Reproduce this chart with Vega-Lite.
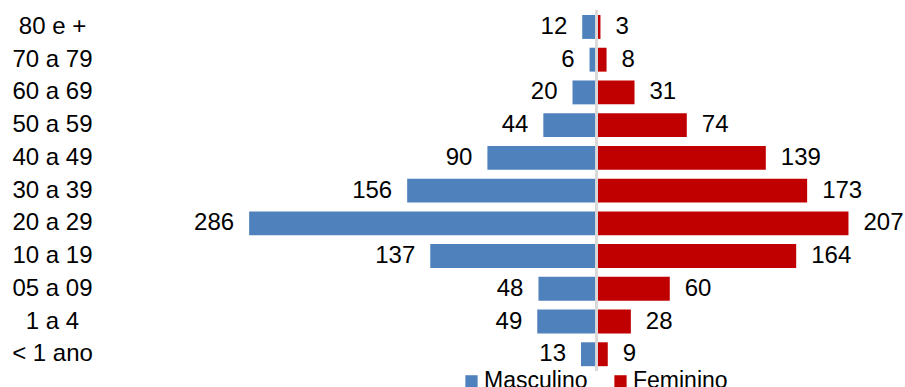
{
  "$schema": "https://vega.github.io/schema/vega-lite/v6.json",
  "width": 775,
  "height": 360,
  "autosize": {"type": "none"},
  "padding": {"left": 130, "top": 10.6, "right": 0, "bottom": 16.4},
  "background": "white",
  "config": {"view": {"stroke": null}, "font": "Liberation Sans"},
  "data": {
    "values": [
      {"faixa": "80 e +", "sexo": "Masculino", "valor": 12},
      {"faixa": "70 a 79", "sexo": "Masculino", "valor": 6},
      {"faixa": "60 a 69", "sexo": "Masculino", "valor": 20},
      {"faixa": "50 a 59", "sexo": "Masculino", "valor": 44},
      {"faixa": "40 a 49", "sexo": "Masculino", "valor": 90},
      {"faixa": "30 a 39", "sexo": "Masculino", "valor": 156},
      {"faixa": "20 a 29", "sexo": "Masculino", "valor": 286},
      {"faixa": "10 a 19", "sexo": "Masculino", "valor": 137},
      {"faixa": "05 a 09", "sexo": "Masculino", "valor": 48},
      {"faixa": "1 a 4", "sexo": "Masculino", "valor": 49},
      {"faixa": "< 1 ano", "sexo": "Masculino", "valor": 13},
      {"faixa": "80 e +", "sexo": "Feminino", "valor": 3},
      {"faixa": "70 a 79", "sexo": "Feminino", "valor": 8},
      {"faixa": "60 a 69", "sexo": "Feminino", "valor": 31},
      {"faixa": "50 a 59", "sexo": "Feminino", "valor": 74},
      {"faixa": "40 a 49", "sexo": "Feminino", "valor": 139},
      {"faixa": "30 a 39", "sexo": "Feminino", "valor": 173},
      {"faixa": "20 a 29", "sexo": "Feminino", "valor": 207},
      {"faixa": "10 a 19", "sexo": "Feminino", "valor": 164},
      {"faixa": "05 a 09", "sexo": "Feminino", "valor": 60},
      {"faixa": "1 a 4", "sexo": "Feminino", "valor": 28},
      {"faixa": "< 1 ano", "sexo": "Feminino", "valor": 9}
    ]
  },
  "transform": [
    {"calculate": "datum.sexo == 'Masculino' ? -datum.valor : datum.valor", "as": "pos"}
  ],
  "encoding": {
    "y": {
      "field": "faixa",
      "type": "nominal",
      "sort": ["80 e +", "70 a 79", "60 a 69", "50 a 59", "40 a 49", "30 a 39", "20 a 29", "10 a 19", "05 a 09", "1 a 4", "< 1 ano"],
      "scale": {"paddingInner": 0.27, "paddingOuter": 0.135},
      "axis": {
        "title": null,
        "domain": false,
        "ticks": false,
        "tickSize": 0,
        "grid": false,
        "labelAlign": "center",
        "labelPadding": 78,
        "labelFontSize": 24,
        "labelColor": "#000000",
        "labelFont": "Liberation Sans"
      }
    }
  },
  "layer": [
    {
      "mark": {"type": "bar"},
      "encoding": {
        "x": {"field": "pos", "type": "quantitative", "scale": {"domain": [-384, 253.5], "nice": false, "zero": false}, "axis": null},
        "color": {
          "field": "sexo",
          "type": "nominal",
          "scale": {"domain": ["Masculino", "Feminino"], "range": ["#4F81BD", "#C00000"]},
          "legend": {
            "title": null,
            "orient": "none",
            "direction": "horizontal",
            "legendX": 330,
            "legendY": 359,
            "padding": 0,
            "symbolType": "square",
            "symbolSize": 150,
            "symbolStrokeWidth": 0,
            "labelFontSize": 23,
            "labelFont": "Liberation Sans",
            "labelColor": "#000000",
            "labelOffset": 1,
            "columnPadding": 21
          }
        }
      }
    },
    {
      "mark": {"type": "rule", "color": "#D9D9D9", "strokeWidth": 2},
      "encoding": {"x": {"datum": 0, "type": "quantitative"}, "y": null}
    },
    {
      "transform": [{"filter": "datum.sexo == 'Masculino'"}],
      "mark": {"type": "text", "align": "right", "baseline": "middle", "dx": -15, "fontSize": 24, "font": "Liberation Sans", "color": "#000000"},
      "encoding": {
        "x": {"field": "pos", "type": "quantitative"},
        "text": {"field": "valor", "type": "quantitative"}
      }
    },
    {
      "transform": [{"filter": "datum.sexo == 'Feminino'"}],
      "mark": {"type": "text", "align": "left", "baseline": "middle", "dx": 15, "fontSize": 24, "font": "Liberation Sans", "color": "#000000"},
      "encoding": {
        "x": {"field": "pos", "type": "quantitative"},
        "text": {"field": "valor", "type": "quantitative"}
      }
    }
  ]
}
